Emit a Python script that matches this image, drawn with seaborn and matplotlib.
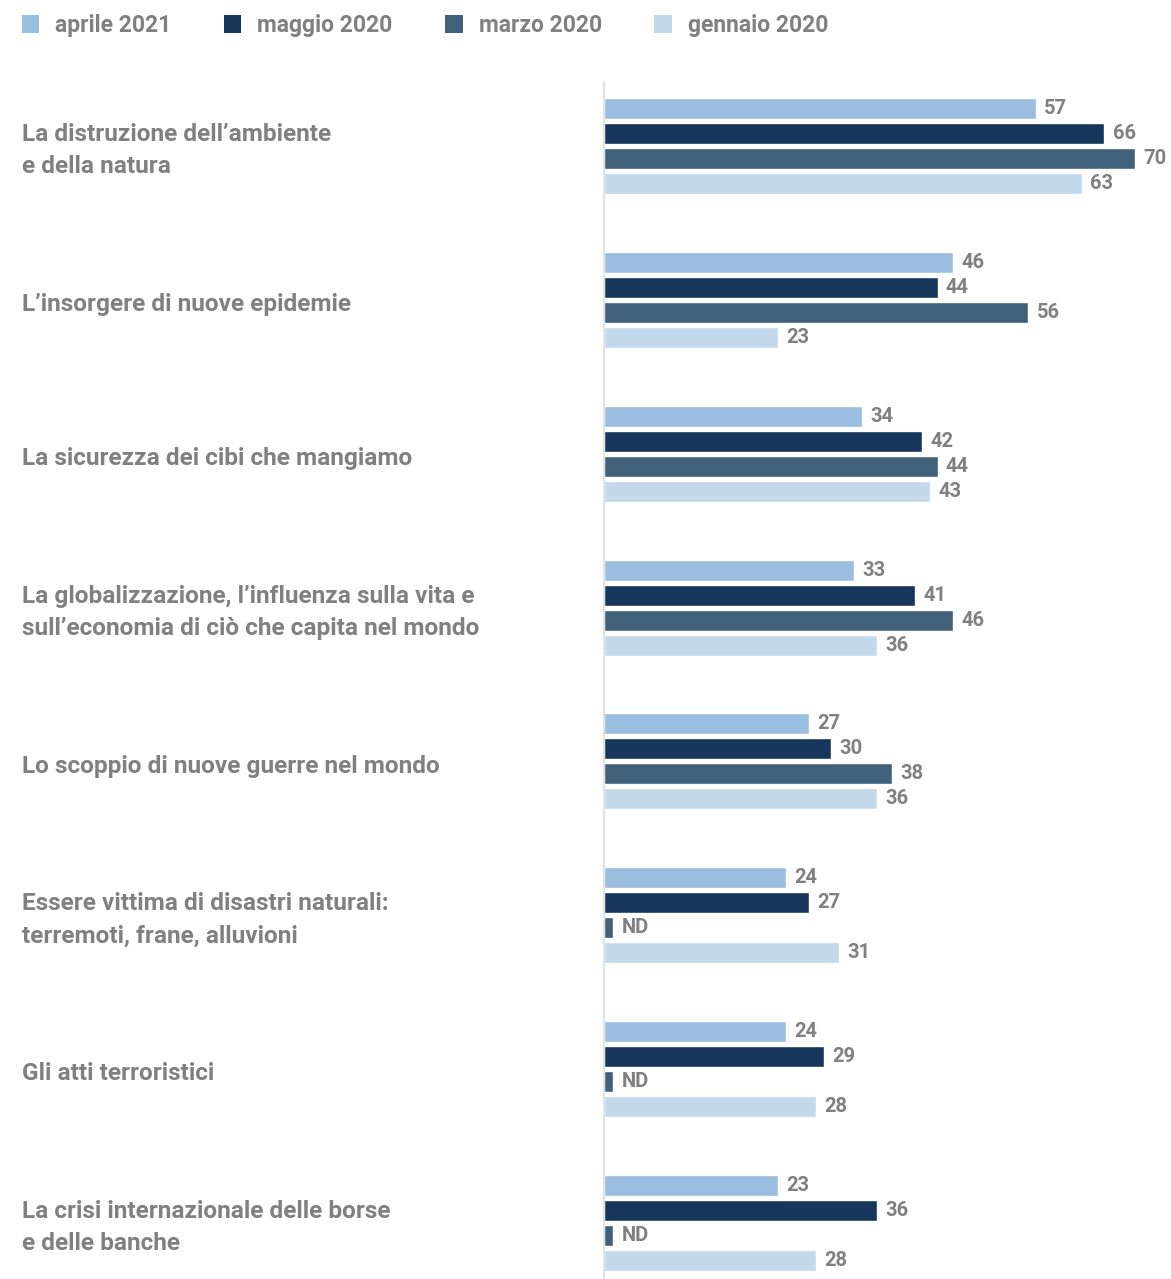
import numpy as np
import pandas as pd
import seaborn as sns
import matplotlib.pyplot as plt
from matplotlib.patches import Patch
from matplotlib.transforms import blended_transform_factory

categories = [
    "La distruzione dell\u2019ambiente\ne della natura",
    "L\u2019insorgere di nuove epidemie",
    "La sicurezza dei cibi che mangiamo",
    "La globalizzazione, l\u2019influenza sulla vita e\nsull\u2019economia di ci\u00f2 che capita nel mondo",
    "Lo scoppio di nuove guerre nel mondo",
    "Essere vittima di disastri naturali:\nterremoti, frane, alluvioni",
    "Gli atti terroristici",
    "La crisi internazionale delle borse\ne delle banche",
]
series = ["aprile 2021", "maggio 2020", "marzo 2020", "gennaio 2020"]
aprile_2021 = [57, 46, 34, 33, 27, 24, 24, 23]
maggio_2020 = [66, 44, 42, 41, 30, 27, 29, 36]
marzo_2020 = [70, 56, 44, 46, 38, np.nan, np.nan, np.nan]   # NaN = ND
gennaio_2020 = [63, 23, 43, 36, 36, 31, 28, 28]

colors = ["#9bbee0", "#17365c", "#416079", "#c4d8ec"]
TEXT = "#808080"
ND_STUB = 1.2  # short stub drawn where the value is not available

sns.set_theme(style="white")
plt.rcParams["font.family"] = ["Roboto", "DejaVu Sans"]

rows = []
for s, vals in zip(series, [aprile_2021, maggio_2020, marzo_2020, gennaio_2020]):
    for c, v in zip(categories, vals):
        rows.append({"categoria": c, "serie": s, "valore": v})
df = pd.DataFrame(rows)
df["plot"] = df["valore"].fillna(ND_STUB)

W, H = 1171, 1279
fig = plt.figure(figsize=(W / 100, H / 100), dpi=100)
ax = fig.add_axes([604 / W, 0, 1 - 604 / W, (H - 82) / H])

sns.barplot(data=df, y="categoria", x="plot", hue="serie", order=categories,
            hue_order=series, palette=colors, orient="h", width=0.65, gap=0.16,
            saturation=1, ax=ax, legend=False, errorbar=None)

ax.set_xlim(0, 74.8)
ax.set_ylim(7.364, -0.416)
ax.set_xlabel("")
ax.set_ylabel("")
ax.set_xticks([])
ax.set_yticks([])
for side in ["top", "right", "bottom"]:
    ax.spines[side].set_visible(False)
ax.spines["left"].set_color("#e3e3e3")
ax.spines["left"].set_linewidth(1.5)

for cont, s in zip(ax.containers, series):
    sub = df[df["serie"] == s].set_index("categoria").loc[categories, "valore"]
    labels = ["ND" if np.isnan(v) else f"{int(v)}" for v in sub]
    ax.bar_label(cont, labels=labels, padding=6, color=TEXT,
                 fontsize=14.5, fontweight="bold")

trans = blended_transform_factory(fig.transFigure, ax.transData)
for i, c in enumerate(categories):
    ax.text(22 / W, i + 0.03, c, transform=trans, ha="left", va="center",
            fontsize=17.6, fontweight="bold", color=TEXT, linespacing=1.5)

handles = [Patch(facecolor=col, edgecolor="none") for col in colors]
fig.legend(handles, series, loc="upper left", bbox_to_anchor=(22 / W, 1 - 14 / H),
           ncol=4, frameon=False, borderpad=0, borderaxespad=0,
           handlelength=0.75, handleheight=0.85, handletextpad=0.7,
           columnspacing=2.3, prop={"size": 16.5, "weight": "bold"},
           labelcolor=TEXT)

fig.savefig("out.png", dpi=100)
